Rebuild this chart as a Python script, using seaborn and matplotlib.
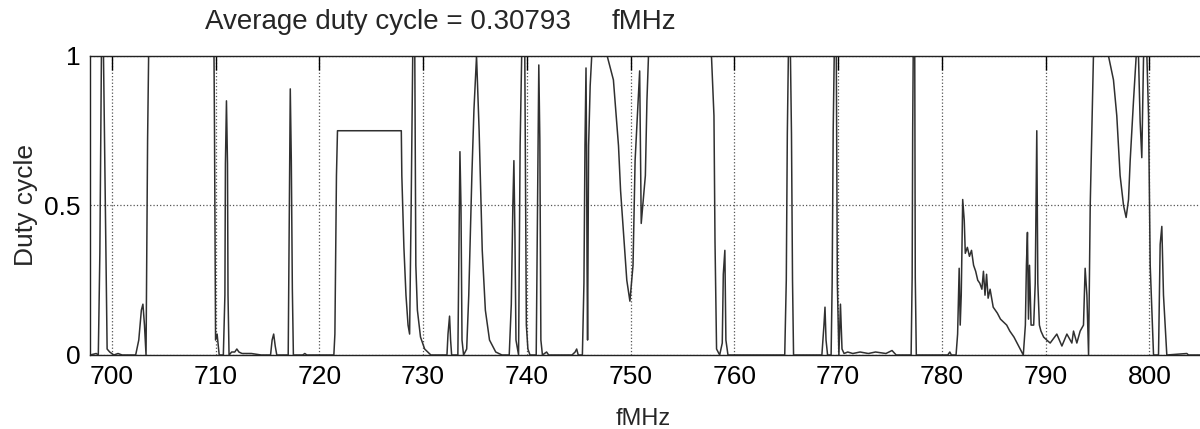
import matplotlib
matplotlib.use('Agg')
import matplotlib.pyplot as plt
import seaborn as sns
import pandas as pd

# Duty cycle trace (frequency in MHz)
freq_mhz = [
    697.9, 698.5, 698.7, 698.85, 699.0, 699.2, 699.3, 699.55, 699.8, 700.2,
    700.6, 701.0, 702.3, 702.6, 702.85, 703.0, 703.15, 703.3, 703.45, 703.55,
    709.85, 709.9, 710.0, 710.15, 710.35, 710.75, 710.9, 710.95, 711.05, 711.15,
    711.2, 711.3, 711.55, 711.85, 712.05, 712.25, 712.55, 713.45, 714.4, 715.3,
    715.45, 715.6, 715.75, 715.9, 717.0, 717.1, 717.2, 717.3, 717.4, 717.5,
    718.4, 718.6, 718.8, 721.4, 721.5, 721.65, 721.75, 727.9, 727.95, 728.15,
    728.35, 728.55, 728.7, 728.85, 729.0, 729.2, 729.3, 729.45, 729.75, 730.15,
    730.45, 730.75, 732.3, 732.4, 732.55, 732.65, 732.75, 733.35, 733.45, 733.55,
    733.65, 733.75, 733.9, 734.2, 734.4, 734.7, 734.9, 735.15, 735.4, 735.7,
    736.0, 736.4, 737.0, 737.6, 738.3, 738.5, 738.65, 738.75, 738.85, 738.95,
    739.2, 739.35, 739.5, 739.8, 739.95, 740.1, 740.3, 740.9, 741.05, 741.15,
    741.25, 741.35, 741.5, 741.9, 742.1, 744.35, 744.65, 744.8, 744.95, 745.35,
    745.5, 745.6, 745.7, 745.75, 745.8, 745.85, 745.95, 746.1, 746.25, 747.74,
    748.34, 748.83, 749.03, 749.33, 749.63, 749.93, 750.23, 750.43, 750.72, 750.87,
    751.02, 751.17, 751.42, 751.57, 751.72, 757.79, 758.03, 758.13, 758.28, 758.58,
    758.83, 758.93, 759.08, 759.18, 759.38, 764.85, 765.0, 765.1, 765.2, 765.4,
    765.5, 765.6, 765.7, 768.43, 768.63, 768.73, 768.83, 768.98, 769.32, 769.42,
    769.52, 769.62, 769.82, 769.92, 770.07, 770.22, 770.37, 770.57, 770.92, 771.41,
    772.11, 772.91, 773.6, 774.6, 775.19, 775.59, 777.03, 777.13, 777.18, 777.23,
    777.38, 777.43, 777.53, 780.56, 780.76, 780.91, 781.36, 781.51, 781.66, 781.76,
    781.86, 782.0, 782.15, 782.25, 782.45, 782.65, 782.85, 783.05, 783.25, 783.45,
    783.65, 783.85, 784.0, 784.15, 784.3, 784.45, 784.64, 784.94, 785.34, 785.64,
    785.94, 786.24, 786.54, 786.94, 787.24, 787.54, 787.84, 788.04, 788.14, 788.24,
    788.34, 788.44, 788.59, 788.84, 788.99, 789.09, 789.14, 789.24, 789.39, 789.54,
    789.8, 790.1, 790.43, 791.07, 791.56, 792.04, 792.52, 792.68, 793.0, 793.32,
    793.64, 793.8, 793.97, 794.13, 794.29, 794.45, 794.6, 796.05, 796.53, 796.85,
    797.17, 797.5, 797.75, 797.98, 798.14, 798.46, 798.72, 798.94, 799.1, 799.26,
    799.43, 799.75, 799.91, 800.07, 800.39, 800.87, 801.03, 801.19, 801.35, 801.67,
    803.6, 803.76, 805.1,
]
duty = [
    0.0, 0.005, 0.0, 0.34, 1.0, 1.0, 0.72, 0.02, 0.01, 0.0,
    0.005, 0.0, 0.0, 0.05, 0.15, 0.17, 0.10, 0.0, 0.72, 1.0,
    1.0, 0.74, 0.05, 0.07, 0.0, 0.0, 0.2, 0.64, 0.85, 0.64,
    0.2, 0.0, 0.01, 0.01, 0.02, 0.01, 0.005, 0.005, 0.0, 0.0,
    0.05, 0.07, 0.03, 0.0, 0.0, 0.44, 0.89, 0.65, 0.22, 0.0,
    0.0, 0.005, 0.0, 0.0, 0.07, 0.6, 0.75, 0.75, 0.6, 0.36,
    0.2, 0.1, 0.07, 0.5, 1.0, 1.0, 0.3, 0.15, 0.06, 0.02,
    0.01, 0.0, 0.0, 0.07, 0.13, 0.05, 0.0, 0.0, 0.35, 0.68,
    0.5, 0.05, 0.0, 0.02, 0.2, 0.6, 0.82, 1.0, 0.75, 0.35,
    0.15, 0.05, 0.01, 0.0, 0.0, 0.17, 0.5, 0.65, 0.4, 0.05,
    0.0, 0.7, 1.0, 1.0, 0.1, 0.02, 0.0, 0.0, 0.57, 0.97,
    0.72, 0.05, 0.0, 0.01, 0.0, 0.0, 0.01, 0.02, 0.0, 0.0,
    0.24, 0.7, 0.96, 0.7, 0.3, 0.05, 0.7, 0.9, 1.0, 1.0,
    0.92, 0.7, 0.55, 0.4, 0.25, 0.18, 0.3, 0.65, 0.85, 0.95,
    0.44, 0.5, 0.6, 0.85, 1.0, 1.0, 0.8, 0.38, 0.02, 0.0,
    0.04, 0.27, 0.35, 0.05, 0.0, 0.0, 0.25, 0.74, 1.0, 1.0,
    0.74, 0.25, 0.0, 0.0, 0.1, 0.16, 0.05, 0.0, 0.0, 0.24,
    0.75, 1.0, 1.0, 0.24, 0.0, 0.17, 0.02, 0.005, 0.01, 0.005,
    0.01, 0.005, 0.01, 0.005, 0.015, 0.0, 0.0, 0.26, 0.75, 1.0,
    1.0, 0.26, 0.0, 0.0, 0.01, 0.0, 0.0, 0.07, 0.29, 0.1,
    0.2, 0.52, 0.45, 0.34, 0.36, 0.33, 0.35, 0.3, 0.28, 0.25,
    0.24, 0.22, 0.28, 0.2, 0.27, 0.19, 0.22, 0.16, 0.14, 0.12,
    0.11, 0.1, 0.08, 0.06, 0.04, 0.02, 0.0, 0.1, 0.3, 0.41,
    0.12, 0.3, 0.1, 0.1, 0.24, 0.58, 0.75, 0.24, 0.1, 0.08,
    0.06, 0.05, 0.04, 0.07, 0.03, 0.07, 0.04, 0.08, 0.04, 0.08,
    0.1, 0.29, 0.2, 0.0, 0.5, 0.75, 1.0, 1.0, 0.92, 0.8,
    0.6, 0.5, 0.46, 0.52, 0.65, 0.85, 1.0, 1.0, 0.78, 0.66,
    1.0, 1.0, 0.8, 0.3, 0.0, 0.0, 0.37, 0.43, 0.2, 0.0,
    0.005, 0.0, 0.0,
]

x_ticks = [700, 710, 720, 730, 740, 750, 760, 770, 780, 790, 800]
y_ticks = [0, 0.5, 1]
y_tick_labels = ['0', '0.5', '1']
avg_duty = 0.30793

df = pd.DataFrame({'fMHz': freq_mhz, 'duty': duty})

sns.set_style('white')
plt.rcParams['font.family'] = ['Liberation Sans', 'DejaVu Sans']

fig = plt.figure(figsize=(12, 4.29), dpi=100)
ax = fig.add_axes([0.075, 0.1725, 0.927, 0.697])

sns.lineplot(data=df, x='fMHz', y='duty', ax=ax, color='#303030',
             linewidth=1.1, estimator=None, sort=False)

ax.set_xlim(697.9, 805.1)
ax.set_ylim(0, 1)
ax.set_xticks(x_ticks)
ax.set_yticks(y_ticks)
ax.set_yticklabels(y_tick_labels)
ax.grid(True, linestyle=':', color='#555555', linewidth=0.9)
ax.tick_params(direction='in', length=10, width=1, top=True, right=False,
               labelsize=19, pad=7, colors='black')

for s in ax.spines.values():
    s.set_color('#222222')
    s.set_linewidth(1.0)

ax.set_xlabel('fMHz', fontsize=17)
ax.xaxis.set_label_coords(0.497, -0.178)
ax.xaxis.label.set_va('top')
ax.set_ylabel('Duty cycle', fontsize=19)
ax.yaxis.set_label_coords(-0.047, 0.5)

fig.text(205 / 1200, 1 - 22 / 429, f'Average duty cycle = {avg_duty}',
         fontsize=20, ha='left', va='center')
fig.text(612 / 1200, 1 - 22 / 429, 'fMHz', fontsize=20, ha='left', va='center')

fig.savefig('out.png', dpi=100)
